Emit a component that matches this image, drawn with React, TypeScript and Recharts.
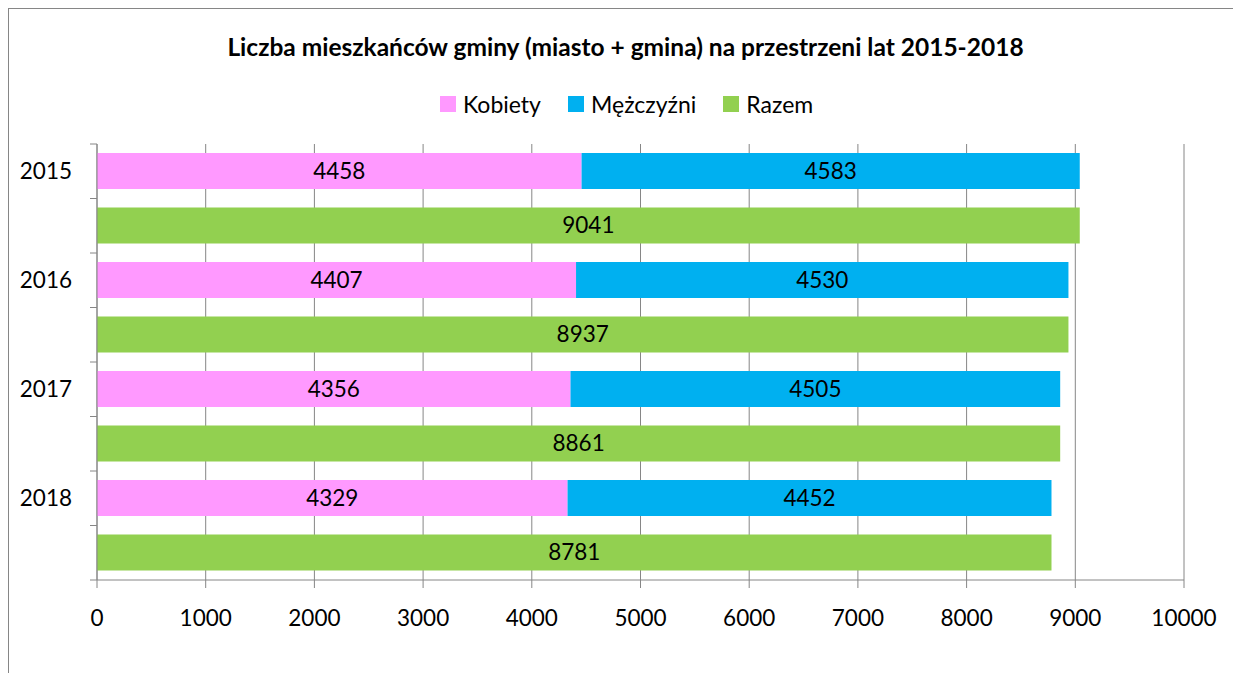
import { BarChart, Bar, XAxis, YAxis, CartesianGrid, LabelList } from 'recharts';

const years = ['2015', '2016', '2017', '2018'];
const kobiety = [4458, 4407, 4356, 4329];
const mezczyzni = [4583, 4530, 4505, 4452];
const razem = [9041, 8937, 8861, 8781];
const xTicks = [0, 1000, 2000, 3000, 4000, 5000, 6000, 7000, 8000, 9000, 10000];

const COLORS = { kobiety: '#FF99FF', mezczyzni: '#00B0F0', razem: '#92D050' };
const GREY = '#868686';
const FONT = 'Lato, "Open Sans", sans-serif';

// each year gets two rows: the stacked women/men bar and the total bar below it
const rows = years.flatMap((y, i) => [
  { row: y, kobiety: kobiety[i], mezczyzni: mezczyzni[i] },
  { row: `${y} razem`, razem: razem[i] },
]);

const legendItems = [
  { label: 'Kobiety', color: COLORS.kobiety },
  { label: 'Mężczyźni', color: COLORS.mezczyzni },
  { label: 'Razem', color: COLORS.razem },
];

const hideEmpty = (v: any) => (v ? v : '');

function YTick({ x, y, payload, index }: any) {
  const half = payload?.offset ?? 27;
  const label = String(payload.value);
  return (
    <g>
      <line x1={x + 18} x2={x + 25} y1={y - half} y2={y - half} stroke={GREY} />
      {index === rows.length - 1 && (
        <line x1={x + 18} x2={x + 25} y1={y + half} y2={y + half} stroke={GREY} />
      )}
      {!label.includes('razem') && (
        <text x={x} y={y} dy="0.36em" textAnchor="end" fill="#000" fontSize={22.5} fontFamily={FONT}>
          {label}
        </text>
      )}
    </g>
  );
}

export default function App() {
  return (
    <div
      style={{
        position: 'relative',
        width: 1233,
        height: 665,
        borderLeft: `1px solid ${GREY}`,
        borderTop: `1px solid ${GREY}`,
        fontFamily: FONT,
        background: '#fff',
      }}
    >
      <div
        style={{
          position: 'absolute',
          top: 23,
          left: 0,
          width: 1233,
          textAlign: 'center',
          fontWeight: 'bold',
          fontSize: 24.5,
          lineHeight: '30px',
          color: '#000',
        }}
      >
        Liczba mieszkańców gminy (miasto + gmina) na przestrzeni lat 2015-2018
      </div>
      <div style={{ position: 'absolute', top: 81, left: 431, display: 'flex', alignItems: 'center', fontSize: 23 }}>
        {legendItems.map((it) => (
          <div key={it.label} style={{ display: 'flex', alignItems: 'center', marginRight: 27 }}>
            <span style={{ display: 'inline-block', width: 16, height: 16, background: it.color, marginRight: 7 }} />
            <span style={{ lineHeight: '28px' }}>{it.label}</span>
          </div>
        ))}
      </div>
      <BarChart
        width={1232}
        height={664}
        data={rows}
        layout="vertical"
        barSize={36}
        margin={{ top: 135, right: 57, bottom: 63, left: 0 }}
      >
        <CartesianGrid horizontal={false} stroke={GREY} strokeWidth={1} />
        <XAxis
          type="number"
          domain={[0, 10000]}
          ticks={xTicks}
          interval={0}
          height={30}
          tickSize={8}
          tickMargin={22}
          stroke={GREY}
          tick={{ fill: '#000', fontSize: 22.5, fontFamily: FONT }}
        />
        <YAxis
          type="category"
          dataKey="row"
          width={88}
          interval={0}
          tickSize={7}
          tickMargin={18}
          tickLine={false}
          stroke={GREY}
          tick={<YTick />}
        />
        <Bar dataKey="kobiety" stackId="a" fill={COLORS.kobiety} isAnimationActive={false}>
          <LabelList dataKey="kobiety" position="center" fill="#000" fontSize={22.5} fontFamily={FONT} formatter={hideEmpty} />
        </Bar>
        <Bar dataKey="mezczyzni" stackId="a" fill={COLORS.mezczyzni} isAnimationActive={false}>
          <LabelList dataKey="mezczyzni" position="center" fill="#000" fontSize={22.5} fontFamily={FONT} formatter={hideEmpty} />
        </Bar>
        <Bar dataKey="razem" stackId="a" fill={COLORS.razem} isAnimationActive={false}>
          <LabelList dataKey="razem" position="center" fill="#000" fontSize={22.5} fontFamily={FONT} formatter={hideEmpty} />
        </Bar>
      </BarChart>
    </div>
  );
}
